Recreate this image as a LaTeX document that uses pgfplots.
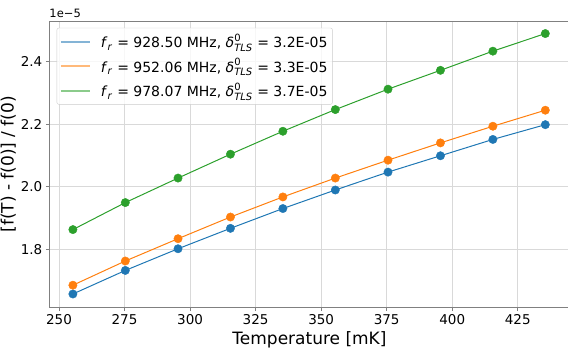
\documentclass[border=0pt]{standalone}
\usepackage{pgfplots}
\pgfplotsset{compat=1.18}
\usepackage{fontspec}
\setmainfont{DejaVu Sans}

\definecolor{tabblue}{HTML}{1F77B4}
\definecolor{taborange}{HTML}{FF7F0E}
\definecolor{tabgreen}{HTML}{2CA02C}
\definecolor{spine}{HTML}{808080}

\newcommand{\sm}[1]{\mbox{\fontsize{10}{10}\selectfont #1}}
\newcommand{\fr}{$\mbox{\textit{f}}_{\sm{\textit{r}}}$}
\newcommand{\dtls}{$\mbox{\textit{δ}}^{\sm{0}}_{\sm{\textit{TLS}}}$}

\begin{document}
\begin{tikzpicture}
\begin{axis}[
  scale only axis, width=520.4pt, height=286.5pt,
  xmin=246.3, xmax=444.8, ymin=1.616, ymax=2.528,
  xtick={250,275,...,425}, ytick={1.8,2.0,2.2,2.4},
  yticklabel style={/pgf/number format/.cd, fixed, fixed zerofill, precision=1},
  /pgf/number format/assume math mode=true,
  ticklabel style={font=\fontsize{13.5}{16}\selectfont},
  tick pos=left, tick align=outside, major tick length=3.5pt,
  tick style={spine, line width=0.8pt},
  axis line style={spine, line width=0.8pt},
  grid=major, grid style={black!15, line width=0.8pt},
  xlabel={Temperature [mK]}, ylabel={[f(T) - f(0)] / f(0)},
  label style={font=\fontsize{17}{20}\selectfont},
  ylabel style={yshift=-2pt},
  legend cell align=left,
  legend style={at={(0,1)}, anchor=north west, xshift=7.4pt, yshift=-6.8pt,
    draw=black!20, rounded corners=2pt, fill=white, fill opacity=0.8, text opacity=1,
    font=\fontsize{14}{17}\selectfont, row sep=5pt, inner xsep=3pt, inner ysep=4pt},
  legend image code/.code={\draw[#1, line width=1.8pt] (0pt,0pt) -- (29pt,0pt); \path (38pt,0pt);},
  dot/.style={line width=1pt, mark=*, mark size=4.2pt, mark options={fill=#1, line width=0.4pt}, color=#1},
]
\coordinate (o) at (rel axis cs:0,0);
\addplot[dot=tabblue, forget plot] coordinates {
  (255.3,1.659) (275.3,1.734) (295.4,1.803) (315.4,1.868) (335.4,1.931)
  (355.4,1.990) (375.5,2.047) (395.5,2.099) (415.5,2.151) (435.5,2.198)};
\addplot[dot=taborange, forget plot] coordinates {
  (255.3,1.687) (275.3,1.764) (295.4,1.835) (315.4,1.904) (335.4,1.968)
  (355.4,2.028) (375.5,2.085) (395.5,2.140) (415.5,2.193) (435.5,2.244)};
\addplot[dot=tabgreen, forget plot] coordinates {
  (255.3,1.864) (275.3,1.950) (295.4,2.028) (315.4,2.104) (335.4,2.177)
  (355.4,2.246) (375.5,2.311) (395.5,2.371) (415.5,2.432) (435.5,2.488)};
\addlegendimage{draw=tabblue!55!white}
\addlegendentry{\fr{} = 928.50 MHz, \dtls{} = 3.2E-05}
\addlegendimage{draw=taborange!55!white}
\addlegendentry{\fr{} = 952.06 MHz, \dtls{} = 3.3E-05}
\addlegendimage{draw=tabgreen!55!white}
\addlegendentry{\fr{} = 978.07 MHz, \dtls{} = 3.7E-05}
\end{axis}
\node[anchor=south west, inner sep=0pt, font=\fontsize{11.5}{13}\selectfont]
  at ([yshift=290pt]o) {1e−5};
\pgfresetboundingbox
\useasboundingbox ([xshift=-49.3pt, yshift=-41pt]o) rectangle ([xshift=518.7pt, yshift=307.5pt]o);
\end{tikzpicture}
\end{document}
